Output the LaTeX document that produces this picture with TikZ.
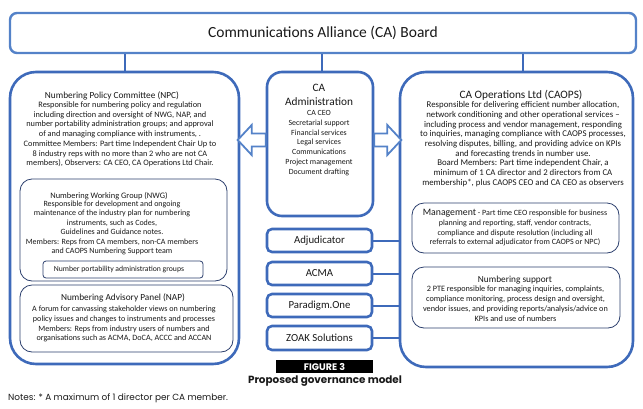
\documentclass[tikz,border=0pt]{standalone}
\usepackage{fontspec}
\setmainfont{Carlito}
\newfontfamily\gothic{Poppins}
\usetikzlibrary{fit,calc}
\definecolor{bblue}{RGB}{62,106,186}
\definecolor{lblue}{RGB}{84,130,200}
\definecolor{iblue}{RGB}{45,64,110}
\definecolor{txt}{RGB}{25,25,25}
\begin{document}
\begin{tikzpicture}[x=1pt,y=-1pt,
  outerbox/.style={draw=bblue, line width=2.6pt, rounded corners=26pt, inner sep=0pt, fill=white},
  boardbox/.style={draw=lblue, line width=2.4pt, rounded corners=7pt, inner sep=0pt, fill=white},
  admbox/.style={draw=bblue, line width=2.6pt, rounded corners=15pt, inner sep=0pt, fill=white},
  smallbox/.style={draw=bblue, line width=2.6pt, rounded corners=5pt, inner sep=0pt, fill=white},
  smalltxt/.style={inner sep=0pt, text=txt, font=\fontsize{10.8}{12}\selectfont},
  innerbox/.style={draw=iblue, line width=0.8pt, rounded corners=12pt, inner sep=0pt},
  tinybox/.style={draw=iblue, line width=0.8pt, rounded corners=3pt, inner sep=0pt},
  titletxt/.style={anchor=base, inner sep=0pt, text=txt, font=\fontsize{9.3}{11}\selectfont},
  bodytxt/.style={anchor=north, inner sep=0pt, align=center, text=txt, font=\fontsize{8.1}{9.75}\selectfont},
  conn/.style={draw=bblue, line width=2pt},
  blockarrow/.style={draw=lblue, line width=1.8pt, fill=white, line join=miter}
]
\useasboundingbox (0,0) rectangle (643,408);

% Board
\node[boardbox, fit={(10,13) (636,53)}] (board) {};
\node[inner sep=0pt, text=txt, font=\fontsize{15.5}{17}\selectfont] (boardt) at (323,33) {Communications Alliance (CA) Board};

% Outer boxes
\node[outerbox, fit={(10,72) (239,364)}] (npc) {};
\node[admbox, fit={(267,72) (373,216)}] (adm) {};
\node[outerbox, fit={(400,72) (633,367)}] (caops) {};

% connectors from board
\draw[conn] (board.south -| npc.north) -- (npc.north);
\draw[conn] ([xshift=2pt]board.south -| adm.north) -- ([xshift=2pt]adm.north);
\draw[conn] ([xshift=6pt]board.south -| caops.north) -- ([xshift=6pt]caops.north);

% NPC content
\node[titletxt] (npct) at (112,98.1) {Numbering Policy Committee (NPC)};
\node[bodytxt, font=\fontsize{8.3}{9.75}\selectfont] (npcb) at (120,101.5) {Responsible for numbering policy and regulation\\
including direction and oversight of NWG, NAP, and\\
number portability administration groups; and approval\\
of and managing compliance with instruments, .\\
Committee Members: Part time Independent Chair Up to\\
8 industry reps with no more than 2 who are not CA\\
members), Observers: CA CEO, CA Operations Ltd Chair.};

\node[innerbox, fit={(20,179) (227,281)}] (nwg) {};
\node[titletxt, font=\fontsize{8.4}{10}\selectfont] (nwgt) at (109,198) {Numbering Working Group (NWG)};
\node[bodytxt, font=\fontsize{8.0}{9.5}\selectfont] (nwgb) at (112,200.6) {Responsible for development and ongoing\\
maintenance of the industry plan for numbering\\
instruments, such as Codes,\\
Guidelines and Guidance notes.\\
Members: Reps from CA members, non-CA members\\
and CAOPS Numbering Support team};
\node[tinybox, fit={(43,261) (203,278)}] (npg) {};
\node[inner sep=0pt, text=txt, font=\fontsize{7.7}{9}\selectfont] (npgt) at (119,269.5) {Number portability administration groups};

\node[innerbox, fit={(20,285) (233,352)}] (nap) {};
\node[titletxt] (napt) at (123,300.4) {Numbering Advisory Panel (NAP)};
\node[bodytxt] (napb) at (124,305.8) {A forum for canvassing stakeholder views on numbering\\
policy issues and changes to instruments and processes\\
Members: Reps from industry users of numbers and\\
organisations such as ACMA, DoCA, ACCC and ACCAN};

% CA Administration
\node[anchor=north, inner sep=0pt, align=center, text=txt, font=\fontsize{11.3}{14}\selectfont] (admt) at (319,84) {CA\\Administration};
\node[bodytxt, font=\fontsize{7.9}{9.9}\selectfont] (admb) at (319,109.9) {CA CEO\\
Secretarial support\\
Financial services\\
Legal services\\
Communications\\
Project management\\
Document drafting};

% block arrows
\draw[blockarrow] ([yshift=10.5pt]adm.west) -- ++(-14,0) -- ++(0,-8.5) -- ++(-14,15) -- ++(14,15) -- ++(0,-8.5) -- ++(14,0) -- cycle;
\draw[blockarrow] ([yshift=10.5pt]adm.east) -- ++(13,0) -- ++(0,-8.5) -- ++(14,15) -- ++(-14,15) -- ++(0,-8.5) -- ++(-13,0) -- cycle;

% small boxes
\node[smallbox, fit={(267,229) (372,252)}] (adj) {};
\node[smalltxt] at (adj.center) {Adjudicator};
\node[smallbox, fit={(267,262) (372,285)}] (acma) {};
\node[smalltxt] at (acma.center) {ACMA};
\node[smallbox, fit={(267,294) (372,317)}] (para) {};
\node[smalltxt] at (para.center) {Paradigm.One};
\node[smallbox, fit={(267,326) (372,350)}] (zoak) {};
\node[smalltxt] at (zoak.center) {ZOAK Solutions};

\draw[conn] (adj.east) -- (adj.east -| caops.west);
\draw[conn] (acma.east) -- (acma.east -| caops.west);
\draw[conn] (para.east) -- (para.east -| caops.west);
\draw[conn] (zoak.east) -- (zoak.east -| caops.west);

% CAOPS content
\node[titletxt, font=\fontsize{11.3}{13}\selectfont] (caopst) at (521,98.6) {CA Operations Ltd (CAOPS)};
\node[bodytxt, font=\fontsize{8.8}{9.7}\selectfont] (caopsb) at (523,101.3) {Responsible for delivering efficient number allocation,\\
network conditioning and other operational services --\\
including process and vendor management, responding\\
to inquiries, managing compliance with CAOPS processes,\\
resolving disputes, billing, and providing advice on KPIs\\
and forecasting trends in number use.\\
Board Members: Part time independent Chair, a\\
minimum of 1 CA director and 2 directors from CA\\
membership*, plus CAOPS CEO and CA CEO as observers};

\node[innerbox, fit={(412,203) (619,253)}] (mgmt) {};
\node[bodytxt, font=\fontsize{8.0}{9.9}\selectfont] (mgmtb) at (515,208.8) {{\fontsize{9.8}{9.9}\selectfont Management} - Part time CEO responsible for business\\
planning and reporting, staff, vendor contracts,\\
compliance and dispute resolution (including all\\
referrals to external adjudicator from CAOPS or NPC)};

\node[innerbox, fit={(412,267) (620,328)}] (nsup) {};
\node[titletxt] (nsupt) at (515,282.4) {Numbering support};
\node[bodytxt, font=\fontsize{8.2}{10}\selectfont] (nsupb) at (515.5,285.8) {2 PTE responsible for managing inquiries, complaints,\\
compliance monitoring, process design and oversight,\\
vendor issues, and providing reports/analysis/advice on\\
KPIs and use of numbers};

% caption
\node[fill=black, fit={(276,360) (373,373)}, inner sep=0pt] (fig) {};
\node[inner sep=0pt, text=white, font=\gothic\bfseries\fontsize{9.5}{10}\selectfont] at (fig.center) {FIGURE 3};
\node[anchor=base, inner sep=0pt, text=txt, font=\gothic\bfseries\fontsize{10.4}{12}\selectfont] (cap) at (325,383.5) {Proposed governance model};
\node[anchor=base west, inner sep=0pt, text=txt, font=\gothic\fontsize{8.9}{10}\selectfont] (notes) at (8,400.3) {Notes: * A maximum of 1 director per CA member.};
\end{tikzpicture}
\end{document}
